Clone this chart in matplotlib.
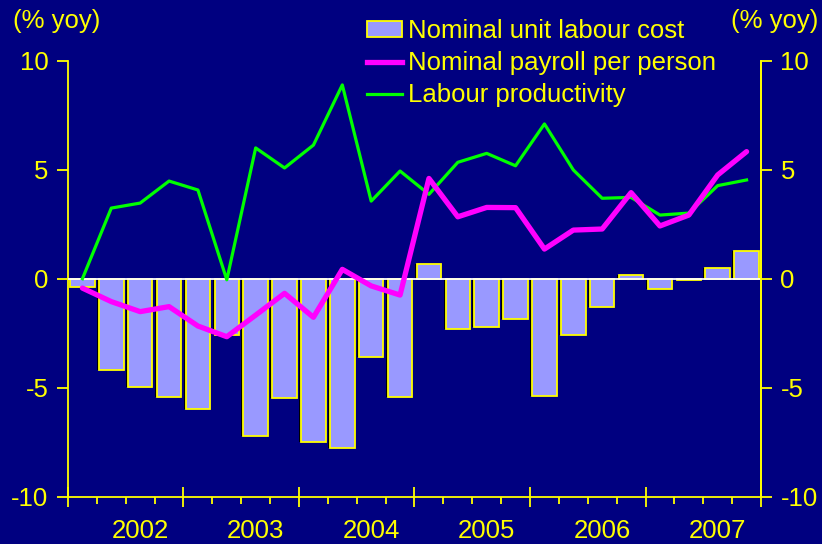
import matplotlib
matplotlib.use("Agg")
import matplotlib.pyplot as plt
import matplotlib.transforms as mtransforms
from matplotlib.patches import Patch
from matplotlib.lines import Line2D
import numpy as np

plt.rcParams['font.family'] = ['Liberation Sans', 'DejaVu Sans']

# quarterly data, 2001Q4 .. 2007Q3 (24 quarters)
years = ["2002", "2003", "2004", "2005", "2006", "2007"]
unit_labour_cost = [-0.39, -4.19, -4.95, -5.41, -5.96, -2.60, -7.20, -5.46, -7.50, -7.75,
                    -3.59, -5.43, 0.67, -2.31, -2.22, -1.85, -5.38, -2.58, -1.30, 0.17,
                    -0.47, -0.06, 0.49, 1.26]
payroll_per_person = [-0.43, -1.05, -1.51, -1.28, -2.17, -2.66, -1.67, -0.67, -1.77, 0.43,
                      -0.33, -0.75, 4.60, 2.84, 3.27, 3.26, 1.36, 2.23, 2.28, 3.95,
                      2.42, 2.92, 4.76, 5.83]
labour_productivity = [0.0, 3.24, 3.47, 4.48, 4.07, -0.05, 6.00, 5.08, 6.13, 8.89,
                       3.56, 4.94, 3.87, 5.34, 5.75, 5.18, 7.10, 4.99, 3.69, 3.73,
                       2.92, 3.01, 4.27, 4.53]
y_ticks = [-10, -5, 0, 5, 10]

BG = "#000080"
YEL = "#FFFF00"
BAR = "#9999FF"
MAG = "#FF00FF"
GRN = "#00FF00"
FS = 18.5

fig = plt.figure(figsize=(8.22, 5.44), dpi=100, facecolor=BG)
ax = fig.add_axes([0.0827, 0.0869, 0.8431, 0.8015], facecolor=BG)

n = len(unit_labour_cost)
x = np.arange(n)

# bar shadow
ax.bar(x - 0.07, unit_labour_cost, width=0.85, color="black", zorder=1)
ax.bar(x, unit_labour_cost, width=0.85, color=BAR, edgecolor=YEL, linewidth=1.3, zorder=2)
ax.axhline(0, color="white", lw=1.3, zorder=3)
ax.plot(x, labour_productivity, color=GRN, lw=2.3, zorder=4)
ax.plot(x, payroll_per_person, color=MAG, lw=3.8, zorder=5, solid_capstyle='round')

ax.set_xlim(-0.5, n - 0.5)
ax.set_ylim(-10, 10)

ax.spines["top"].set_visible(False)
for s in ["left", "right", "bottom"]:
    ax.spines[s].set_color(YEL)
    ax.spines[s].set_linewidth(1.3)

ax.set_yticks(y_ticks)
ax.set_yticklabels([str(t) for t in y_ticks])
ax.tick_params(axis='y', colors=YEL, labelcolor=YEL, labelsize=FS, length=8, width=1.3,
               direction='out', pad=6)

major = np.arange(-0.5, n, 4)
ax.set_xticks(major)
ax.set_xticklabels([])
ax.set_xticks(np.arange(-0.5, n, 1), minor=True)
ax.tick_params(axis='x', which='major', colors=YEL, length=15, width=1.3, direction='inout')
ax.tick_params(axis='x', which='minor', colors=YEL, length=5, width=1.3, direction='out')

trans = mtransforms.blended_transform_factory(ax.transData, ax.transAxes)
for i, yr in enumerate(years):
    ax.text(2 + 4 * i, -0.0945, yr, transform=trans, ha='center', va='baseline',
            color=YEL, fontsize=FS)

ax2 = ax.twinx()
ax2.set_ylim(-10, 10)
ax2.set_yticks(y_ticks)
ax2.set_yticklabels([str(t) for t in y_ticks])
ax2.tick_params(axis='y', colors=YEL, labelcolor=YEL, labelsize=FS, length=8, width=1.3,
                direction='out', pad=6)
for s in ["top", "left", "bottom"]:
    ax2.spines[s].set_visible(False)
ax2.spines["right"].set_color(YEL)
ax2.spines["right"].set_linewidth(1.3)

fig.text(0.0158, 0.962, "(% yoy)", color=YEL, fontsize=FS, ha='left', va='center')
fig.text(0.995, 0.962, "(% yoy)", color=YEL, fontsize=FS, ha='right', va='center')

handles = [Patch(facecolor=BAR, edgecolor=YEL, linewidth=1.3),
           Line2D([], [], color=MAG, lw=3.8),
           Line2D([], [], color=GRN, lw=2.3)]
labels = ["Nominal unit labour cost", "Nominal payroll per person", "Labour productivity"]
leg = ax.legend(handles, labels, loc='upper left', bbox_to_anchor=(0.446, 0.965),
                bbox_transform=fig.transFigure, frameon=False, fontsize=FS,
                labelcolor=YEL, handlelength=1.36, handleheight=0.6, handletextpad=0.25,
                labelspacing=0.32, borderaxespad=0, borderpad=0)

fig.savefig("out.png", dpi=100, facecolor=BG)
